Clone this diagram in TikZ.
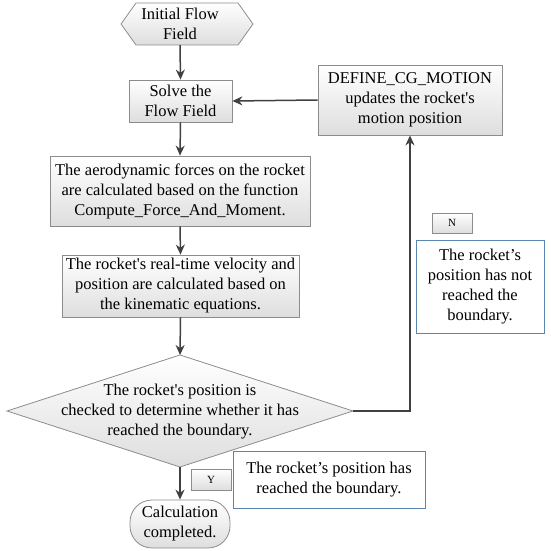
\documentclass[tikz,border=0pt]{standalone}
\usepackage{fontspec}
\setmainfont{Liberation Serif}
\usetikzlibrary{arrows.meta}
\definecolor{bordergray}{RGB}{140,140,140}
\definecolor{fillgray}{RGB}{222,222,222}
\definecolor{arrowgray}{RGB}{64,64,64}
\definecolor{blueline}{RGB}{90,135,175}
\begin{document}
\begin{tikzpicture}[x=1pt,y=-1pt,
  txt/.style={font=\fontsize{16.5}{20}\selectfont},
  gbox/.style={txt, draw=bordergray, line width=0.8pt, top color=white, bottom color=fillgray,
    align=center, inner sep=0pt},
  bbox/.style={txt, draw=blueline, line width=0.8pt, fill=white,
    align=center, inner sep=0pt},
  tagbox/.style={draw=bordergray, line width=0.6pt, top color=white, bottom color=fillgray,
    inner sep=0pt, font=\fontsize{11}{13}\selectfont},
  arr/.style={draw=arrowgray, line width=1.5pt, -{Stealth[length=10pt,width=9pt]}}
]
\useasboundingbox (0,0) rectangle (550,551);
% start hexagon
\draw[draw=bordergray, line width=0.8pt, top color=white, bottom color=fillgray]
  (121,24) -- (136,3) -- (238,3) -- (253,24) -- (238,45) -- (136,45) -- cycle;
\node[txt, align=center, inner sep=0pt, minimum height=42pt]
  (start) at (180,24) {Initial Flow\\Field};
% process boxes
\node[gbox, minimum width=103pt, minimum height=42pt] (solve) at (180.5,101) {Solve the\\Flow Field};
\node[gbox, minimum width=184pt, minimum height=70pt] (define) at (410,100)
  {DEFINE\_CG\_MOTION\\updates the rocket\textquotesingle s\\motion position};
\node[gbox, minimum width=260pt, minimum height=70pt] (aero) at (180,191)
  {The aerodynamic forces on the rocket\\are calculated based on the function\\Compute\_Force\_And\_Moment.};
\node[gbox, minimum width=237pt, minimum height=62pt] (kin) at (180.5,286)
  {The rocket\textquotesingle s real-time velocity and\\position are calculated based on\\the kinematic equations.};
% decision diamond
\coordinate (dtop) at (180,355);
\coordinate (dleft) at (7,411);
\coordinate (dbot) at (180,467);
\coordinate (dright) at (353,411);
\draw[draw=bordergray, line width=0.8pt, top color=white, bottom color=fillgray]
  (dtop) -- (dright) -- (dbot) -- (dleft) -- cycle;
\node[txt, align=center, inner sep=0pt] (dec) at (180,412)
  {The rocket\textquotesingle s position is\\checked to determine whether it has\\reached the boundary.};
% end
\node[gbox, minimum width=100pt, minimum height=48pt, rounded corners=22pt] (calc) at (180,524)
  {Calculation\\completed.};
% labels
\node[tagbox, minimum width=40pt, minimum height=20pt] (ntag) at (452,223) {N};
\node[bbox, minimum width=128pt, minimum height=93pt] (notreach) at (480,286.5)
  {The rocket’s\\position has not\\reached the\\boundary.};
\node[tagbox, minimum width=40pt, minimum height=21pt] (ytag) at (211,479.5) {Y};
\node[bbox, minimum width=192pt, minimum height=57pt] (reach) at (329,479.5)
  {The rocket’s position has\\reached the boundary.};
% connectors
\draw[arr] (start.south) -- (solve.north);
\draw[arr] (solve.south) -- (aero.north);
\draw[arr] (aero.south) -- (kin.north);
\draw[arr] (kin.south) -- (dtop);
\draw[arr] (dbot) -- (calc.north);
\draw[arr] (dright) -| (define.south);
\draw[arr] (define.west) -- (solve.east);
\end{tikzpicture}
\end{document}
